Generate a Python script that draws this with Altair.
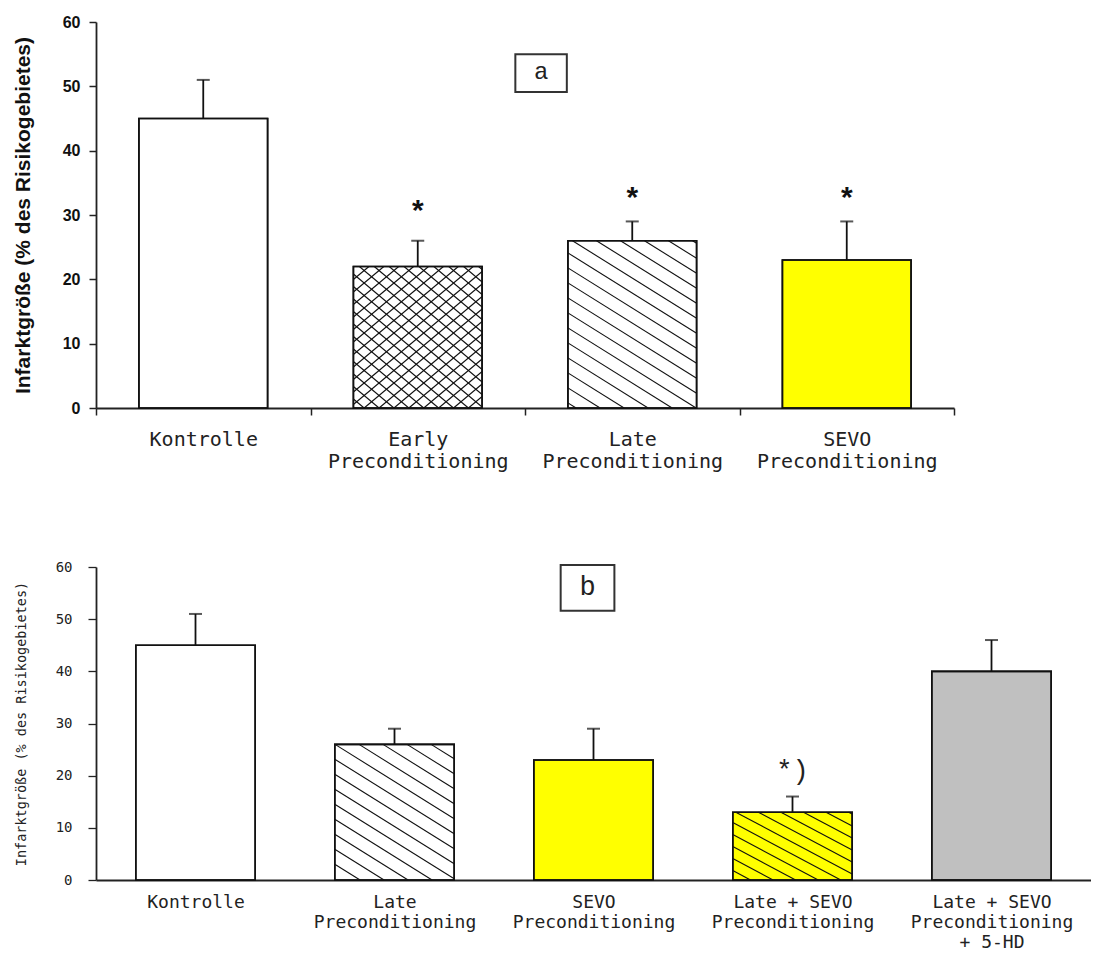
import altair as alt
import pandas as pd
import numpy as np

# ---------------- Panel a data ----------------
a_labels = [["Kontrolle"], ["Early", "Preconditioning"], ["Late", "Preconditioning"], ["SEVO", "Preconditioning"]]
a_values = [45, 22, 26, 23]
a_errors = [6, 4, 3, 6]
a_fills = ["#ffffff", "#ffffff", "#ffffff", "#ffff00"]
a_hatch = ["none", "cross", "diag", "none"]
a_stars = ["", "*", "*", "*"]
a_star_y = [0, 31.2, 33.3, 33.3]
a_tag = "a"
a_tag_box = [1.955, 2.195, 49.1, 55.0]   # x0, x1, y0, y1 in data units

# ---------------- Panel b data ----------------
b_labels = [["Kontrolle"], ["Late", "Preconditioning"], ["SEVO", "Preconditioning"],
            ["Late + SEVO", "Preconditioning"], ["Late + SEVO", "Preconditioning", "+ 5-HD"]]
b_values = [45, 26, 23, 13, 40]
b_errors = [6, 3, 6, 3, 6]
b_fills = ["#ffffff", "#ffffff", "#ffff00", "#ffff00", "#c0c0c0"]
b_hatch = ["none", "diag", "none", "diag_dense", "none"]
b_stars = ["", "", "", "*)", ""]
b_star_y = [0, 0, 0, 20.8, 0]
b_tag = "b"
b_tag_box = [2.335, 2.605, 51.6, 60.4]

Y_TITLE = "Infarktgröße (% des Risikogebietes)"
BAR_HALF = 0.30

# hatch styles: (angle deg, vertical spacing px, direction) ; direction -1 = "\" , +1 = "/"
HATCH = {
    "diag": [(32, 15.0, -1)],
    "diag_dense": [(28, 12.0, -1)],
    "cross": [(40, 12.5, -1), (40, 12.5, 1)],
}


def hatch_segments(x0, x1, y0, y1, pxx, pxy, style):
    segs = []
    X0, X1, Y0, Y1 = x0 * pxx, x1 * pxx, y0 * pxy, y1 * pxy
    for ang, sv, d in HATCH.get(style, []):
        m = d * np.tan(np.radians(ang))
        cs = [Y - m * X for X in (X0, X1) for Y in (Y0, Y1)]
        kmin, kmax = int(np.ceil(min(cs) / sv)), int(np.floor(max(cs) / sv))
        for k in range(kmin, kmax + 1):
            c = k * sv
            lo, hi = sorted([(Y0 - c) / m, (Y1 - c) / m])
            xa, xb = max(lo, X0), min(hi, X1)
            if xb - xa > 0.5:
                segs.append(dict(hx=xa / pxx, hx2=xb / pxx,
                                 hy=(m * xa + c) / pxy, hy2=(m * xb + c) / pxy))
    return segs


def label_expr(labels):
    parts = []
    for i, lab in enumerate(labels):
        arr = "[" + ",".join("'" + s + "'" for s in lab) + "]"
        parts.append(f"abs(datum.value - {i + 0.5}) < 0.01 ? {arr} : ")
    return "".join(parts) + "''"


def panel(labels, values, errors, fills, hatch, stars, star_y, tag, tag_box,
          W, H, style):
    n = len(labels)
    pxx, pxy = W / n, H / 60.0
    df = pd.DataFrame({
        "xc": [i + 0.5 for i in range(n)],
        "x0": [i + 0.5 - BAR_HALF for i in range(n)],
        "x1": [i + 0.5 + BAR_HALF for i in range(n)],
        "v": values,
        "top": [v + e for v, e in zip(values, errors)],
        "fill": fills,
        "star": stars,
        "sy": star_y,
    })
    segs = []
    for i in range(n):
        segs += hatch_segments(i + 0.5 - BAR_HALF, i + 0.5 + BAR_HALF, 0, values[i],
                               pxx, pxy, hatch[i])
    hdf = pd.DataFrame(segs)

    xs = alt.Scale(domain=[0, n], nice=False, zero=False)
    ys = alt.Scale(domain=[0, 60], nice=False)

    if style == "a":
        xaxis = alt.Axis(title=None, values=[k * 0.5 for k in range(2 * n + 1)],
                         labelExpr=label_expr(labels), labelOverlap=False, labelFlush=False,
                         labelLimit=0,
                         tickOpacity={"condition": {"test": "datum.value % 1 === 0", "value": 1}, "value": 0},
                         tickSize=7, tickWidth=1.5, tickColor="#222", domainColor="#222", domainWidth=1.8,
                         labelFont="DejaVu Sans Mono", labelFontSize=20, labelColor="#222",
                         labelPadding=14, labelLineHeight=22, labelBaseline="top", labelAlign="center",
                         grid=False)
        yaxis = alt.Axis(title=Y_TITLE, values=list(range(0, 61, 10)), grid=False,
                         tickSize=7, tickWidth=1.5, tickColor="#222", domainColor="#222", domainWidth=1.8,
                         labelFont="Liberation Sans", labelFontWeight="bold", labelFontSize=16,
                         labelColor="#111", labelPadding=9,
                         titleFont="Liberation Sans", titleFontWeight="bold", titleFontSize=21,
                         titleColor="#111", titlePadding=29)
        sw = 1.6
        star_font, star_size, star_dy = "Liberation Sans", 30, 13
        tag_font, tag_size = "Liberation Mono", 24
    else:
        xaxis = alt.Axis(title=None, values=[k + 0.5 for k in range(n)],
                         labelExpr=label_expr(labels), labelOverlap=False, labelFlush=False,
                         labelLimit=0,
                         ticks=False, domainColor="#222", domainWidth=1.8,
                         labelFont="DejaVu Sans Mono", labelFontSize=18, labelColor="#222",
                         labelPadding=13, labelLineHeight=20, labelBaseline="top", labelAlign="center",
                         grid=False)
        yaxis = alt.Axis(title=Y_TITLE, values=list(range(0, 61, 10)), grid=False,
                         tickSize=8, tickWidth=1.3, tickColor="#222", domainColor="#222", domainWidth=1.8,
                         labelFont="DejaVu Sans Mono", labelFontSize=14, labelColor="#222",
                         labelPadding=16,
                         titleFont="DejaVu Sans Mono", titleFontWeight="normal", titleFontSize=13.5,
                         titleColor="#222", titlePadding=27)
        sw = 1.6
        star_font, star_size, star_dy = "Liberation Mono", 27, 0
        tag_font, tag_size = "Liberation Mono", 27

    def X(f):
        return alt.X(f"{f}:Q", scale=xs, axis=xaxis)

    def Y(f):
        return alt.Y(f"{f}:Q", scale=ys, axis=yaxis)

    base = alt.Chart(df)
    bars = base.mark_rect(stroke="#111", strokeWidth=sw).encode(
        x=X("x0"), x2="x1", y=Y("v"), y2=alt.datum(0),
        fill=alt.Fill("fill:N", scale=None))
    layers = [bars]
    if len(hdf):
        hl = alt.Chart(hdf).mark_rule(color="#111", strokeWidth=1.1).encode(
            x=X("hx"), x2="hx2", y=Y("hy"), y2="hy2")
        layers.append(hl)
    # re-stroke bars on top of hatching
    layers.append(base.mark_rect(stroke="#111", strokeWidth=sw, fill=None, fillOpacity=0).encode(
        x=X("x0"), x2="x1", y=Y("v"), y2=alt.datum(0)))
    err = base.mark_rule(color="#111", strokeWidth=1.8).encode(x=X("xc"), y=Y("v"), y2="top")
    cap = base.mark_tick(orient="horizontal", size=13, thickness=2, color="#111").encode(
        x=X("xc"), y=Y("top"))
    layers += [err, cap]
    sdf = df[df["star"] != ""]
    if style == "a":
        stxt = alt.Chart(sdf).mark_text(font=star_font, fontSize=star_size, fontWeight="bold",
                                        color="#111", baseline="alphabetic", dy=star_dy).encode(
            x=X("xc"), y=Y("sy"), text="star:N")
    else:
        stxt = alt.Chart(sdf).mark_text(font=star_font, fontSize=star_size,
                                        color="#222", baseline="middle").encode(
            x=X("xc"), y=Y("sy"), text="star:N")
    layers.append(stxt)

    tdf = pd.DataFrame({"t": [tag], "x0": [tag_box[0]], "x1": [tag_box[1]],
                        "y0": [tag_box[2]], "y1": [tag_box[3]],
                        "xm": [(tag_box[0] + tag_box[1]) / 2], "ym": [(tag_box[2] + tag_box[3]) / 2]})
    box = alt.Chart(tdf).mark_rect(fill="white", stroke="#333", strokeWidth=2).encode(
        x=X("x0"), x2="x1", y=Y("y0"), y2="y1")
    ttxt = alt.Chart(tdf).mark_text(font=tag_font, fontSize=tag_size, color="#222",
                                    baseline="middle", dy=-1).encode(
        x=X("xm"), y=Y("ym"), text="t:N")
    layers += [box, ttxt]
    return alt.layer(*layers).properties(width=W, height=H)


top = panel(a_labels, a_values, a_errors, a_fills, a_hatch, a_stars, a_star_y, a_tag, a_tag_box,
            858, 386, "a")
bottom = panel(b_labels, b_values, b_errors, b_fills, b_hatch, b_stars, b_star_y, b_tag, b_tag_box,
               995, 313, "b")

chart = alt.vconcat(top, bottom, spacing=89).properties(
    padding={"left": 4, "top": 6, "right": 0, "bottom": 2},
    background="white",
).configure_view(stroke=None)

chart.save("out.html", embed_options={"renderer": "svg", "actions": False})
